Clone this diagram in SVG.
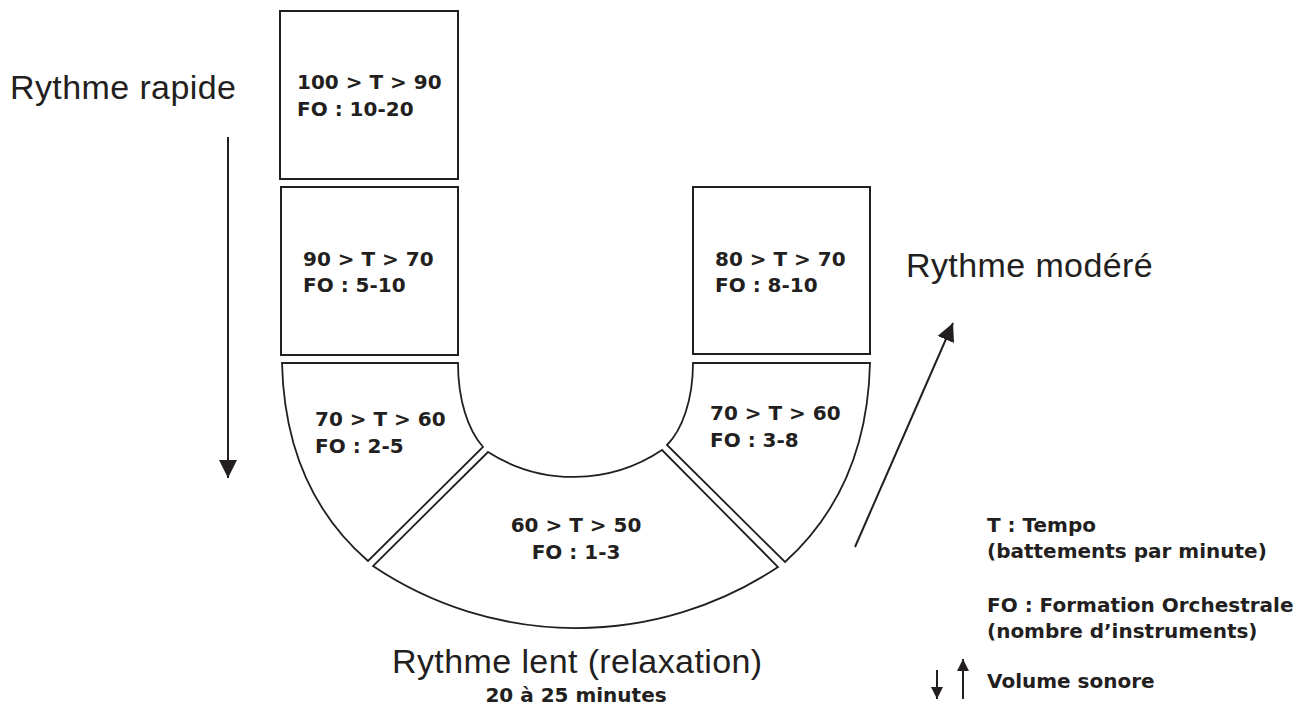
<svg xmlns="http://www.w3.org/2000/svg" width="1308" height="719" viewBox="0 0 1308 719">
<defs>
<style>
.box{fill:#fff;stroke:#231f20;stroke-width:2}
.seg{fill:#fff;stroke:#231f20;stroke-width:1.8;stroke-linejoin:miter}
.b{font-family:"DejaVu Sans",sans-serif;font-weight:bold;font-size:20px;fill:#231f20}
.r{font-family:"Liberation Sans",Arial,sans-serif;font-size:34px;fill:#231f20;letter-spacing:0.4px}
.arr{stroke:#231f20;stroke-width:2;fill:none}
</style>
<marker id="ah" viewBox="0 0 10 10" refX="10" refY="5" markerWidth="10" markerHeight="10" markerUnits="userSpaceOnUse" orient="auto">
<path d="M0,0 L10,5 L0,10 Z" fill="#231f20"/>
</marker>
<marker id="ahBig" viewBox="0 0 10 10" refX="10" refY="5" markerWidth="18" markerHeight="19" markerUnits="userSpaceOnUse" orient="auto">
<path d="M0,0 L10,5 L0,10 Z" fill="#231f20"/>
</marker>
<marker id="ahSm" viewBox="0 0 10 10" refX="10" refY="5" markerWidth="12" markerHeight="12" markerUnits="userSpaceOnUse" orient="auto">
<path d="M0,0 L10,5 L0,10 Z" fill="#231f20"/>
</marker>
</defs>
<rect width="1308" height="719" fill="#fff"/>

<g id="box-100-90">
<rect class="box" x="280" y="11" width="178" height="168"/>
<text class="b" x="297" y="89">100 &gt; T &gt; 90</text>
<text class="b" x="297" y="116">FO : 10-20</text>
</g>
<g id="box-90-70">
<rect class="box" x="281" y="187" width="177" height="168"/>
<text class="b" x="303" y="266">90 &gt; T &gt; 70</text>
<text class="b" x="303" y="292">FO : 5-10</text>
</g>
<g id="box-80-70">
<rect class="box" x="693" y="187" width="177" height="167"/>
<text class="b" x="715" y="266">80 &gt; T &gt; 70</text>
<text class="b" x="715" y="292">FO : 8-10</text>
</g>
<g id="seg-left-70-60">
<path class="seg" d="M282,363 L458,363 C458,400 468,430 483,447 L368,561 C315,515 284,450 282,363 Z"/>
<text class="b" x="315" y="426">70 &gt; T &gt; 60</text>
<text class="b" x="315" y="453">FO : 2-5</text>
</g>
<g id="seg-bottom-60-50">
<path class="seg" d="M488,452 A159,159 0 0 0 662,450 L778,567 A364,364 0 0 1 373,566 Z"/>
<text class="b" x="576" y="532" text-anchor="middle">60 &gt; T &gt; 50</text>
<text class="b" x="576" y="559" text-anchor="middle">FO : 1-3</text>
</g>
<g id="seg-right-70-60">
<path class="seg" d="M693,363 L870,363 C868,450 837,515 785,562 L667,445 C682,430 693,400 693,363 Z"/>
<text class="b" x="710" y="420">70 &gt; T &gt; 60</text>
<text class="b" x="710" y="447">FO : 3-8</text>
</g>

<g id="connectors">
<line class="arr" x1="228" y1="137" x2="228" y2="478" marker-end="url(#ahBig)"/>
<line class="arr" x1="855" y1="547" x2="953" y2="323" marker-end="url(#ahBig)"/>
<line class="arr" x1="937" y1="670" x2="937" y2="699" marker-end="url(#ahSm)"/>
<line class="arr" x1="963" y1="699" x2="963" y2="659" marker-end="url(#ahSm)"/>
</g>

<g id="labels">
<text class="r" x="10" y="99">Rythme rapide</text>
<text class="r" x="906" y="277">Rythme modéré</text>
<text class="r" x="392" y="673">Rythme lent (relaxation)</text>
<text class="b" x="576" y="702" text-anchor="middle">20 à 25 minutes</text>
</g>

<g id="legend">
<text class="b" x="987" y="532">T : Tempo</text>
<text class="b" x="987" y="558">(battements par minute)</text>
<text class="b" x="987" y="612">FO : Formation Orchestrale</text>
<text class="b" x="987" y="638">(nombre d’instruments)</text>
<text class="b" x="987" y="688">Volume sonore</text>
</g>
</svg>
